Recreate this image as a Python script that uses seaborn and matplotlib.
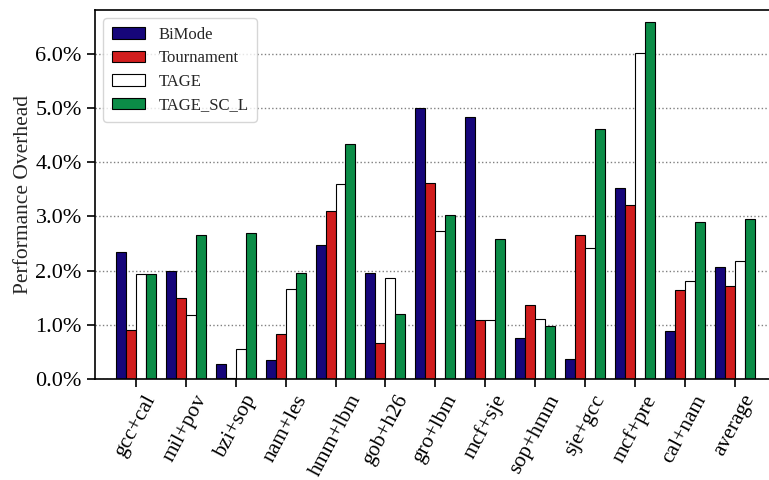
import pandas as pd
import matplotlib
matplotlib.use("Agg")
import matplotlib.pyplot as plt
import seaborn as sns
from matplotlib.ticker import FuncFormatter

# Values (percent)
workloads = ['gcc+cal', 'mil+pov', 'bzi+sop', 'nam+les', 'hmm+lbm', 'gob+h26',
             'gro+lbm', 'mcf+sje', 'sop+hmm', 'sje+gcc', 'mcf+pre', 'cal+nam', 'average']
bimode = [2.34, 2.00, 0.27, 0.36, 2.47, 1.96, 5.01, 4.84, 0.76, 0.37, 3.52, 0.89, 2.06]
tournament = [0.90, 1.50, 0.01, 0.84, 3.11, 0.66, 3.61, 1.08, 1.36, 2.65, 3.22, 1.65, 1.71]
tage = [1.94, 1.18, 0.55, 1.67, 3.60, 1.87, 2.73, 1.08, 1.11, 2.41, 6.01, 1.80, 2.17]
tage_sc_l = [1.93, 2.66, 2.69, 1.95, 4.34, 1.20, 3.03, 2.58, 0.97, 4.62, 6.59, 2.90, 2.95]
predictors = ['BiMode', 'Tournament', 'TAGE', 'TAGE_SC_L']

series = [bimode, tournament, tage, tage_sc_l]
rows = []
for name, vals in zip(predictors, series):
    for w, v in zip(workloads, vals):
        rows.append({'workload': w, 'predictor': name, 'overhead': v})
df = pd.DataFrame(rows)

sns.set_style('white')
plt.rcParams['font.family'] = ['Liberation Serif', 'DejaVu Serif']

palette = {'BiMode': '#16067a', 'Tournament': '#d11d1d', 'TAGE': '#ffffff', 'TAGE_SC_L': '#0b8c47'}

fig = plt.figure(figsize=(7.69, 4.8), dpi=100)
ax = fig.add_axes([0.1235, 0.2104, 0.8852, 0.7686])

sns.barplot(data=df, x='workload', y='overhead', hue='predictor', order=workloads,
            hue_order=predictors, palette=palette, width=0.8, gap=0,
            edgecolor='black', linewidth=0.8, saturation=1, ax=ax)

ax.set_xlim(-0.82, 12.82)
ax.set_ylim(0, 6.81)
ax.set_yticks([0, 1, 2, 3, 4, 5, 6])
ax.yaxis.set_major_formatter(FuncFormatter(lambda v, p: f'{v:.1f}%'))
ax.grid(axis='y', linestyle=':', color='gray', linewidth=1)
ax.set_axisbelow(True)

ax.set_xlabel('')
ax.set_ylabel('Performance Overhead', fontsize=15.5, labelpad=2)
ax.tick_params(axis='both', direction='out', length=6, width=1.2, colors='black')
ax.tick_params(axis='y', left=True, labelsize=16)
ax.tick_params(axis='x', bottom=True, pad=3, labelsize=15.5)
plt.setp(ax.get_xticklabels(), rotation=62, ha='center')

for s in ax.spines.values():
    s.set_color('black')
    s.set_linewidth(1.2)

leg = ax.legend(loc='upper left', fontsize=12, frameon=True, fancybox=True,
                edgecolor='#cccccc', borderpad=0.5, handlelength=2.0,
                labelspacing=0.45, bbox_to_anchor=(0.0, 1.0))
for h in leg.legend_handles:
    h.set_edgecolor('black')

fig.savefig('out.png', dpi=100)
